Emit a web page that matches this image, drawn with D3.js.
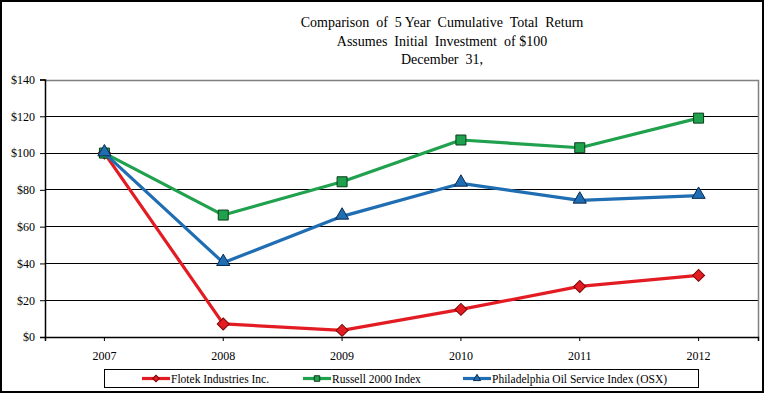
<!DOCTYPE html>
<html><head><meta charset="utf-8">
<script src="https://cdn.jsdelivr.net/npm/d3@7"></script>
<style>
html,body{margin:0;padding:0;background:#fff;}
svg{display:block;}
svg text{font-family:"Liberation Serif","Times New Roman",serif !important;}
</style></head>
<body><svg id="c" width="769" height="397"></svg>
<script>
const years = ["2007","2008","2009","2010","2011","2012"];
const flotek = [100, 7.1, 3.6, 15.0, 27.5, 33.5];
const russell = [100, 66.3, 84.4, 107.1, 102.9, 119.0];
const osx = [100, 40.4, 65.6, 83.5, 74.3, 76.9];
const seriesNames = ["Flotek Industries Inc.", "Russell 2000 Index", "Philadelphia Oil Service Index (OSX)"];
const yTicks = [0, 20, 40, 60, 80, 100, 120, 140];
const titleLines = ["Comparison  of  5 Year  Cumulative  Total  Return", "Assumes  Initial  Investment  of $100", "December  31,"];

const series = [
  {name: seriesNames[0], values: flotek, color: "#e31c23", stroke: "#7a0000", shape: "diamond"},
  {name: seriesNames[1], values: russell, color: "#1fa14e", stroke: "#0b3d1a", shape: "square"},
  {name: seriesNames[2], values: osx, color: "#1f6db3", stroke: "#0a2a50", shape: "triangle"}
];

const svg = d3.select("#c");
const L = 45, R = 758, T = 79.5, B = 337;

svg.append("rect").attr("x",1).attr("y",1).attr("width",762).attr("height",391)
  .attr("fill","#fff").attr("stroke","#000").attr("stroke-width",2);

// title
svg.append("g").selectAll("text").data(titleLines).join("text")
  .attr("x", 442).attr("y", (d,i)=>27 + i*18.5)
  .attr("text-anchor","middle").attr("font-size","14px").attr("fill","#000")
  .style("white-space","pre").text(d=>d);

const x = d3.scaleBand().domain(years).range([L, R]);
const y = d3.scaleLinear().domain([0,140]).range([B, T]);

// gridlines
svg.append("g").selectAll("line").data(yTicks.filter(v=>v>0 && v<140)).join("line")
  .attr("x1", L).attr("x2", R).attr("y1", d=>y(d)).attr("y2", d=>y(d))
  .attr("stroke","#000").attr("stroke-width",1).attr("shape-rendering","crispEdges");
// plot border top/right gray
svg.append("path").attr("d", `M${L},${Math.round(y(140))+0.5}H${R+0.5}V${B}`)
  .attr("fill","none").attr("stroke","#808080").attr("stroke-width",1.5);

// y axis
const yAxis = d3.axisLeft(y).tickValues(yTicks).tickFormat(d=>"$"+d).tickSize(5).tickPadding(5);
const gy = svg.append("g").attr("transform",`translate(${L},0)`).call(yAxis);
gy.select(".domain").attr("stroke","#000").attr("stroke-width",1.5);
gy.selectAll(".tick line").attr("stroke","#000");
gy.selectAll("text").attr("font-size","12px").attr("fill","#000");

// x axis
const xAxis = d3.axisBottom(x).tickSizeInner(4).tickSizeOuter(4).tickPadding(10);
const gx = svg.append("g").attr("transform",`translate(0,${B})`).call(xAxis);
gx.select(".domain").attr("stroke","#000").attr("stroke-width",1.5);
gx.selectAll(".tick line").attr("stroke","#000");
gx.selectAll("text").attr("font-size","12px").attr("fill","#000");

function symPath(shape, scale){
  if(shape==="square") return d3.symbol(d3.symbolSquare, 100*scale*scale)();
  if(shape==="diamond") return d3.symbol(d3.symbolSquare, 72*scale*scale)();
  return d3.symbol(d3.symbolTriangle, 75*scale*scale)();
}

const line = d3.line().x((d,i)=>x(years[i])+x.bandwidth()/2).y(d=>y(d));
series.forEach(s=>{
  const g = svg.append("g");
  g.append("path").attr("d", line(s.values)).attr("fill","none")
    .attr("stroke", s.color).attr("stroke-width",3.2).attr("stroke-linejoin","round");
  g.selectAll("path.m").data(s.values).join("path").attr("class","m")
    .attr("d", symPath(s.shape,1))
    .attr("transform",(d,i)=>`translate(${x(years[i])+x.bandwidth()/2},${y(d)})${s.shape==="diamond"?" rotate(45)":""}${s.shape==="triangle"?" translate(0,-1)":""}`)
    .attr("fill", s.color).attr("stroke", s.stroke).attr("stroke-width",1);
});

// legend
svg.append("rect").attr("x",104.5).attr("y",369.5).attr("width",594).attr("height",18)
  .attr("fill","#fff").attr("stroke","#000").attr("stroke-width",1);
const legX = [142, 303, 463];
series.forEach((s,i)=>{
  const g = svg.append("g").attr("transform",`translate(${legX[i]},378.5)`);
  g.append("line").attr("x1",0).attr("x2",28).attr("stroke",s.color).attr("stroke-width",3.2);
  g.append("path").attr("d", symPath(s.shape,0.55))
    .attr("transform",`translate(14,0)${s.shape==="diamond"?" rotate(45)":""}`)
    .attr("fill", s.color).attr("stroke", s.stroke).attr("stroke-width",1);
  g.append("text").attr("x",29).attr("y",4).attr("font-size","11.5px").attr("fill","#000").text(s.name);
});
</script></body></html>
